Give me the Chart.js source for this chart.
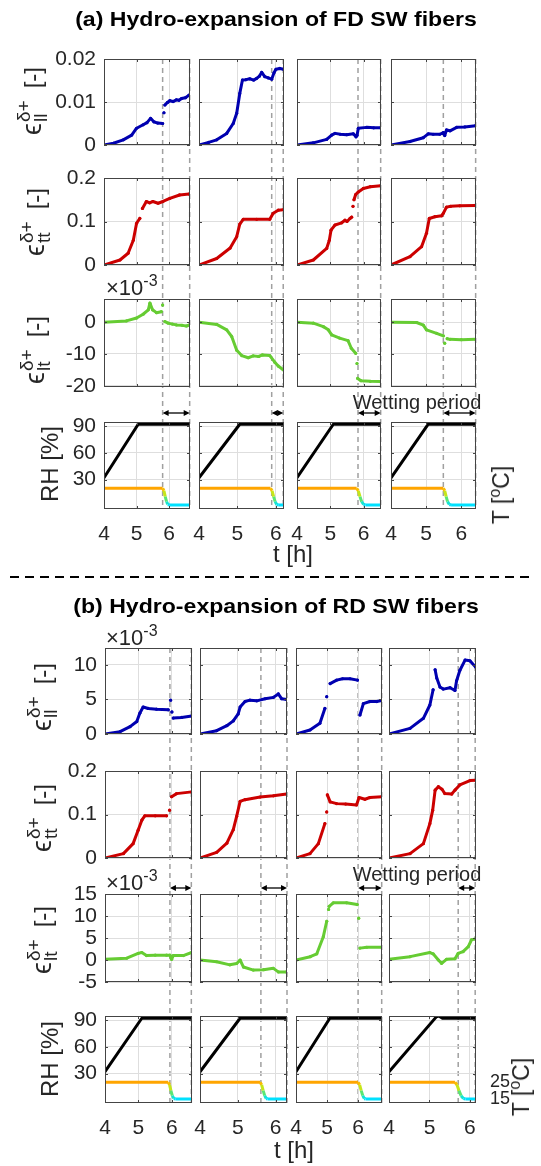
<!DOCTYPE html>
<html>
<head>
<meta charset="utf-8">
<title>Hydro-expansion of SW fibers</title>
<script src="https://cdn.jsdelivr.net/npm/chart.js@4.4.1/dist/chart.umd.min.js"></script>
<style>
  html, body { margin: 0; padding: 0; background: #fff; }
  #fig { position: relative; width: 541px; height: 1166px; overflow: hidden;
         font-family: 'Liberation Sans', 'DejaVu Sans', Arial, sans-serif; color: #262626; }
  #fig canvas { position: absolute; }
  .txt { position: absolute; white-space: nowrap; line-height: 1; }
  .title { font-weight: bold; font-size: 21px; color: #000; transform: translate(-50%, -50%) scaleX(1.1); }
  .mid { transform: translate(-50%, -50%); font-size: 20px; }
  .big { font-size: 24px; }
  .ylab { transform: translate(-50%, -50%) rotate(-90deg); font-size: 24px; }
  .eps { font-size: 27px; }
  .ss { display: inline-block; vertical-align: -6px; font-size: 19px; line-height: 17px; margin: 0 12px 0 1px; }
  .ss span { display: block; }
  .exp { font-size: 22px; transform: translate(0, -50%); }
  .exp sup { font-size: 16px; vertical-align: 9px; }
  .tlab { transform: translate(-50%, -50%) rotate(-90deg); font-size: 23px; }
  .tlab sup { font-size: 16px; vertical-align: 9px; }
</style>
</head>
<body>
<div id="fig"></div>
<script>
// ---------- tick values / labels ----------
const xTicks = [4, 5, 6];
const llTicksA = [0, 0.01, 0.02], llTextA = ['0', '0.01', '0.02'];
const ttTicks = [0, 0.1, 0.2], ttText = ['0', '0.1', '0.2'];
const ltTicksA = [-20, -10, 0], ltTextA = ['-20', '-10', '0'];
const llTicksB = [0, 5, 10], llTextB = ['0', '5', '10'];
const ltTicksB = [-5, 0, 5, 10, 15], ltTextB = ['-5', '0', '5', '10', '15'];
const rhTicks = [30, 60, 90], rhText = ['30', '60', '90'];
const tTicks = [15, 25], tText = ['15', '25'];

// axis ranges
const llRangeA = [0, 0.02], ttRange = [0, 0.2], ltRangeA = [-20.4, 7.3];
const llRangeB = [0, 12.45], ltRangeB = [-5, 15];
const rhRange = [-3, 94.5], tRange = [12.6, 64.7];

// time range end and wetting period [start, end] (h) per column
const xMaxA = [6.64, 6.21, 6.52, 6.42];
const wetA = [[5.80, 6.63], [5.89, 6.19], [5.83, 6.51], [5.49, 6.41]];
const xMaxB = [6.6, 6.3, 6.77, 6.15];
const wetB = [[5.94, 6.58], [5.61, 6.3], [6.0, 6.76], [5.71, 6.13]];

// ---------- (a) FD SW fibers : [t (h), strain] ----------
const llA1 = [[4,0],[4.29,0.0004],[4.59,0.0012],[4.85,0.0023],[5.0,0.0039],[5.2,0.0047],[5.32,0.0052],[5.43,0.0062],[5.53,0.0054],[5.65,0.0051],[5.8,0.005],[5.82,null],[5.84,0.0075],[5.85,null],[5.87,0.0093],[5.95,0.0099],[6.02,0.0103],[6.12,0.0101],[6.22,0.0105],[6.3,0.0104],[6.38,0.0108],[6.5,0.011],[6.61,0.0116]];
const llA2 = [[4,0],[4.25,0.0006],[4.46,0.0012],[4.72,0.0027],[4.89,0.005],[4.98,0.0074],[5.06,0.012],[5.13,0.0151],[5.22,0.0152],[5.32,0.0154],[5.42,0.0151],[5.5,0.0155],[5.57,0.016],[5.63,0.0169],[5.71,0.0159],[5.8,0.0156],[5.89,0.0153],[5.95,0.0168],[6.0,0.0176],[6.1,0.0178],[6.2,0.0176]];
const llA3 = [[4,0],[4.49,0.0005],[4.89,0.0013],[5.04,0.0023],[5.14,0.0027],[5.3,0.0025],[5.49,0.0024],[5.69,0.0026],[5.77,0.0019],[5.8,0.0022],[5.84,0.0039],[6.09,0.0041],[6.3,0.004],[6.51,0.004]];
const llA4 = [[4,0],[4.54,0.0008],[4.92,0.0017],[5.06,0.0026],[5.2,0.0025],[5.39,0.0025],[5.49,0.0029],[5.53,0.0022],[5.58,0.0035],[5.68,0.0033],[5.87,0.0041],[6.1,0.0042],[6.41,0.0045]];

const ttA1 = [[4,0],[4.49,0.0115],[4.74,0.027],[4.9,0.057],[5.0,0.096],[5.1,0.107],[5.14,null],[5.18,0.13],[5.3,0.146],[5.4,0.143],[5.5,0.146],[5.66,0.142],[5.81,0.146],[6.02,0.153],[6.32,0.161],[6.61,0.163]];
const ttA2 = [[4,0],[4.46,0.015],[4.81,0.039],[4.98,0.065],[5.06,0.094],[5.15,0.105],[5.5,0.105],[5.84,0.105],[5.93,0.119],[6.06,0.126],[6.19,0.127]];
const ttA3 = [[4,0],[4.49,0.0115],[4.89,0.038],[4.97,0.057],[5.02,0.08],[5.14,0.092],[5.34,0.097],[5.44,0.103],[5.5,0.1],[5.59,0.107],[5.64,0.11],[5.66,null],[5.68,0.135],[5.69,null],[5.71,0.15],[5.76,0.162],[5.84,0.168],[5.99,0.176],[6.2,0.18],[6.51,0.182]];
const ttA4 = [[4,0],[4.54,0.019],[4.87,0.042],[5.01,0.073],[5.09,0.107],[5.25,0.111],[5.44,0.113],[5.49,0.119],[5.58,0.133],[5.7,0.135],[5.96,0.136],[6.41,0.137]];

// x 10^-3
const ltA1 = [[4,0],[4.69,0.4],[5.0,1.3],[5.2,2.5],[5.36,3.9],[5.41,6.0],[5.49,3.9],[5.61,3.0],[5.76,3.3],[5.78,null],[5.8,5.4],[5.82,null],[5.87,0.2],[5.97,-0.3],[6.1,-0.6],[6.22,-0.85],[6.4,-1.0],[6.53,-1.2],[6.61,-0.9]];
const ltA2 = [[4,0],[4.46,-0.7],[4.72,-2.4],[4.85,-4.5],[4.98,-8.8],[5.11,-10.5],[5.28,-11.2],[5.41,-10.6],[5.55,-10.8],[5.65,-10.3],[5.84,-10.5],[5.97,-12.6],[6.06,-13.8],[6.19,-15]];
const ltA3 = [[4,0],[4.49,-0.3],[4.79,-1.4],[4.94,-2.4],[5.04,-4],[5.28,-5],[5.53,-5.8],[5.63,-8.2],[5.76,-9.8],[5.78,null],[5.8,-13],[5.81,null],[5.82,-17.7],[5.92,-18.4],[6.2,-18.6],[6.51,-18.7]];
const ltA4 = [[4,0],[4.73,-0.1],[4.92,-0.9],[5.01,-2.4],[5.3,-3.5],[5.49,-4.3],[5.51,null],[5.53,-6.6],[5.55,null],[5.6,-5.2],[5.68,-5.4],[6.0,-5.5],[6.41,-5.4]];

// ---------- (b) RD SW fibers ----------
// x 10^-3
const llB1 = [[4,0],[4.45,0.34],[4.75,1.06],[4.95,1.8],[5.04,3.0],[5.14,3.9],[5.29,3.7],[5.54,3.6],[5.89,3.5],[5.92,null],[5.96,4.9],[5.98,null],[6.0,3.2],[6.01,null],[6.04,2.3],[6.29,2.4],[6.59,2.6]];
const llB2 = [[4,0],[4.44,0.48],[4.71,1.2],[4.88,1.9],[5.01,2.9],[5.06,3.9],[5.19,4.7],[5.32,4.9],[5.5,4.8],[5.72,5.1],[5.94,5.3],[6.07,5.8],[6.16,5.1],[6.29,5.0]];
const llB3 = [[4,0],[4.45,0.58],[4.77,1.55],[4.93,3.7],[4.96,null],[4.99,5.4],[5.0,null],[5.1,7.3],[5.31,7.8],[5.5,8.0],[5.74,8.0],[5.98,7.8],[6.0,null],[6.06,2.75],[6.17,4.4],[6.38,4.7],[6.6,4.7],[6.77,4.85]];
const llB4 = [[4,0],[4.52,0.82],[4.85,2.27],[5.01,4.2],[5.09,6.4],[5.12,null],[5.14,9.3],[5.18,8.1],[5.26,6.8],[5.34,6.5],[5.51,6.7],[5.63,6.3],[5.67,7.7],[5.75,9.2],[5.88,10.7],[6.0,10.6],[6.14,9.7]];

const ttB1 = [[4,0],[4.55,0.01],[4.84,0.033],[4.99,0.064],[5.1,0.087],[5.19,0.097],[5.5,0.097],[5.84,0.097],[5.9,null],[5.93,0.11],[5.95,null],[5.99,0.141],[6.14,0.148],[6.59,0.152]];
const ttB2 = [[4,0],[4.44,0.013],[4.71,0.034],[4.88,0.065],[4.97,0.096],[5.06,0.13],[5.19,0.134],[5.59,0.14],[5.94,0.143],[6.29,0.147]];
const ttB3 = [[4,0],[4.45,0.01],[4.72,0.033],[4.93,0.079],[4.96,null],[4.99,0.106],[5.0,null],[5.01,0.145],[5.1,0.129],[5.31,0.125],[5.6,0.124],[5.95,0.122],[6.03,0.139],[6.22,0.135],[6.38,0.139],[6.77,0.141]];
const ttB4 = [[4,0],[4.52,0.01],[4.85,0.033],[5.01,0.079],[5.08,0.11],[5.14,0.156],[5.22,0.164],[5.31,0.158],[5.38,0.148],[5.55,0.147],[5.63,0.156],[5.75,0.168],[6.0,0.178],[6.14,0.179]];

// x 10^-3
const ltB1 = [[4,0.15],[4.65,0.4],[4.99,1.5],[5.1,1.7],[5.24,1.0],[5.5,1.1],[5.84,1.1],[5.94,1.1],[5.99,0.15],[6.04,1.0],[6.34,1.0],[6.59,1.7]];
const ltB2 = [[4,0],[4.44,-0.4],[4.79,-1.1],[4.97,-0.8],[5.06,0],[5.15,-1.6],[5.41,-2.3],[5.68,-2.2],[5.94,-1.9],[6.07,-2.7],[6.29,-2.7]];
const ltB3 = [[4,0],[4.46,0.75],[4.67,1.4],[4.88,5.3],[4.99,8.8],[5.03,null],[5.05,11.5],[5.06,null],[5.07,12.2],[5.2,13],[5.63,13],[5.97,12.6],[6.0,null],[6.02,9.5],[6.04,null],[6.06,2.7],[6.28,2.9],[6.77,2.9]];
const ltB4 = [[4,0.15],[4.52,0.76],[5.01,1.7],[5.09,1.4],[5.22,0],[5.3,-0.76],[5.42,0.15],[5.63,0.3],[5.71,1.5],[5.83,1.9],[5.96,3.05],[6.04,4.6],[6.14,4.8]];

// ---------- RH (%) and T (C) ----------
const rhA1 = [[4,32],[5.05,92],[6.64,92]];
const rhA2 = [[4,32],[5.06,92],[6.21,92]];
const rhA3 = [[4,32],[5.09,92],[6.52,92]];
const rhA4 = [[4,32],[5.06,92],[6.42,92]];
const rhB1 = [[4,32],[5.1,92],[6.6,92]];
const rhB2 = [[4,32],[5.06,92],[6.3,92]];
const rhB3 = [[4,32],[5.09,92],[6.77,92]];
const rhB4 = [[4,32],[5.17,93.5],[5.23,94.5],[5.32,92],[6.15,92]];

const tpA1 = [[4,25],[5.8,25],[5.84,23.5],[5.88,20],[5.92,17],[5.96,15.3],[6.0,15],[6.64,15]];
const tpA2 = [[4,25],[5.86,25],[5.9,23.5],[5.94,20],[5.98,17],[6.02,15.3],[6.06,15],[6.21,15]];
const tpA3 = [[4,25],[5.79,25],[5.84,23.5],[5.89,20],[5.94,17],[6.0,15.3],[6.05,15],[6.52,15]];
const tpA4 = [[4,25],[5.49,25],[5.53,23.5],[5.57,20],[5.61,17],[5.66,15.3],[5.71,15],[6.42,15]];
const tpB1 = [[4,25],[5.89,25],[5.93,23.5],[5.97,20],[6.01,17],[6.06,15.3],[6.1,15],[6.6,15]];
const tpB2 = [[4,25],[5.59,25],[5.63,23.5],[5.67,20],[5.71,17],[5.75,15.3],[5.79,15],[6.3,15]];
const tpB3 = [[4,25],[6.0,25],[6.05,23.5],[6.1,20],[6.15,17],[6.2,15.3],[6.24,15],[6.77,15]];
const tpB4 = [[4,25],[5.63,25],[5.68,23.5],[5.73,20],[5.78,17],[5.84,15.3],[5.89,15],[6.15,15]];

// ---------- look ----------
const TXT = '#262626', GRID = '#dedede', BOX = '#444';
const BLUE = '#0000b0', RED = '#cc0000', GREEN = '#66cc33';
const tStops = [[15, [0, 225, 255]], [17, [40, 230, 170]], [20, [140, 230, 60]], [23, [240, 230, 0]], [25, [255, 165, 0]]];

// panel rectangles (page px)
const colsA = [[104, 190], [199, 284], [297, 381], [391, 476]];
const rowsA = [[59, 145], [178, 265], [299, 387], [422, 509]];
const colsB = [[105, 192], [200, 287], [296, 382], [389, 476]];
const rowsB = [[648, 734], [771, 858], [894, 982], [1016, 1103]];

Chart.defaults.font.family = "'Liberation Sans', 'DejaVu Sans', Arial, sans-serif";
Chart.defaults.color = TXT;

const fig = document.getElementById('fig');

function tColor(v) {
    if (v <= tStops[0][0]) return 'rgb(' + tStops[0][1].join(',') + ')';
    for (let i = 1; i < tStops.length; i++) {
        if (v <= tStops[i][0]) {
            const [a, ca] = tStops[i - 1], [b, cb] = tStops[i];
            const f = (v - a) / (b - a);
            return 'rgb(' + ca.map((c, k) => Math.round(c + f * (cb[k] - c))).join(',') + ')';
        }
    }
    return 'rgb(' + tStops[tStops.length - 1][1].join(',') + ')';
}

// matlab style box with inward ticks
const boxPlugin = {
    id: 'box',
    afterDraw(c) {
        const a = c.chartArea, ctx = c.ctx;
        ctx.save();
        ctx.strokeStyle = BOX;
        ctx.lineWidth = 1;
        ctx.beginPath();
        c.scales.x.ticks.forEach(t => {
            const px = Math.round(c.scales.x.getPixelForValue(t.value)) + 0.5;
            ctx.moveTo(px, a.bottom); ctx.lineTo(px, a.bottom - 3);
            ctx.moveTo(px, a.top); ctx.lineTo(px, a.top + 3);
        });
        c.scales.y.ticks.forEach(t => {
            const py = Math.round(c.scales.y.getPixelForValue(t.value)) + 0.5;
            ctx.moveTo(a.left, py); ctx.lineTo(a.left + 3, py);
            ctx.moveTo(a.right, py); ctx.lineTo(a.right - 3, py);
        });
        ctx.stroke();
        ctx.strokeRect(a.left + 0.5, a.top + 0.5, a.right - a.left - 1, a.bottom - a.top - 1);
        ctx.restore();
    }
};

function line(arr, color) {
    return {
        data: arr.map(p => ({x: p[0], y: p[1]})),
        borderColor: color, backgroundColor: color, pointBackgroundColor: color,
        borderWidth: 3, pointRadius: 1.6, pointBorderWidth: 0, pointHoverRadius: 0,
        borderCapStyle: 'round', borderJoinStyle: 'round', tension: 0
    };
}

// fixed scale size, no label overflow padding
const fixSize = (dim, n) => s => {
    s[dim] = n;
    s.paddingTop = 0; s.paddingBottom = 0; s.paddingLeft = 0; s.paddingRight = 0;
};

function panel(o) {
    const [l, r] = o.col, [t, b] = o.row;
    const padL = o.showY ? l : 14;
    const padR = o.showT ? 40 : 14;
    const padT = 14, padB = o.showX ? 40 : 14;
    const cw = padL + (r - l) + padR, ch = padT + (b - t) + padB;
    const cv = document.createElement('canvas');
    cv.width = cw; cv.height = ch;
    Object.assign(cv.style, {left: (l - padL) + 'px', top: (t - padT) + 'px', width: cw + 'px', height: ch + 'px', zIndex: 2});
    fig.appendChild(cv);

    const tickList = vals => s => { s.ticks = vals.map(v => ({value: v})); };
    const label = (vals, text) => v => { const i = vals.indexOf(v); return i < 0 ? '' : text[i]; };

    const scales = {
        x: {
            type: 'linear', min: 4, max: o.xMax,
            afterBuildTicks: tickList(xTicks),
            afterFit: fixSize('height', padB),
            grid: {color: GRID, drawTicks: false},
            border: {display: false},
            ticks: {display: !!o.showX, padding: 13, font: {size: 21}, maxRotation: 0, autoSkip: false, callback: v => String(v)}
        },
        y: {
            min: o.yRange[0], max: o.yRange[1],
            afterBuildTicks: tickList(o.yTicks),
            afterFit: fixSize('width', padL),
            grid: {color: GRID, drawTicks: false},
            border: {display: false},
            ticks: {display: !!o.showY, padding: 8, font: {size: 21}, autoSkip: false, callback: label(o.yTicks, o.yText)}
        }
    };
    const datasets = o.sets.slice();
    if (o.tData) {
        scales.yT = {
            position: 'right', min: tRange[0], max: tRange[1],
            afterBuildTicks: tickList(tTicks),
            afterFit: fixSize('width', padR),
            grid: {display: false}, border: {display: false},
            ticks: {display: !!o.showT, padding: 6, font: {size: 18}, autoSkip: false, callback: label(tTicks, tText)}
        };
        datasets.push({
            data: o.tData.map(p => ({x: p[0], y: p[1]})), yAxisID: 'yT',
            borderColor: tColor(25), borderWidth: 3, pointRadius: 0, tension: 0,
            segment: {borderColor: c => tColor((c.p0.parsed.y + c.p1.parsed.y) / 2)}
        });
    }

    const chart = new Chart(cv, {
        type: 'line',
        data: {datasets},
        options: {
            responsive: false, animation: false, devicePixelRatio: 1, events: [],
            layout: {autoPadding: false, padding: {top: padT, bottom: 0, left: 0, right: o.tData ? 0 : padR}},
            plugins: {legend: {display: false}, tooltip: {enabled: false}},
            scales
        },
        plugins: [boxPlugin]
    });
    chart.$left = l - padL;
    return chart;
}

function section(S) {
    S.charts = [];
    for (let ri = 0; ri < 4; ri++) {
        const rowCharts = [];
        for (let ci = 0; ci < 4; ci++) {
            const base = {col: S.cols[ci], row: S.rows[ri], xMax: S.xMax[ci], showY: ci === 0};
            if (ri < 3) {
                const R = S.strain[ri];
                rowCharts.push(panel(Object.assign(base, {
                    yRange: R.range, yTicks: R.ticks, yText: R.text, sets: [line(R.data[ci], R.color)]
                })));
            } else {
                const rh = line(S.rh[ci], '#000');
                rh.pointRadius = 0;
                rowCharts.push(panel(Object.assign(base, {
                    yRange: rhRange, yTicks: rhTicks, yText: rhText, showX: true,
                    showT: S.tLabels && ci === 3, tData: S.temp[ci], sets: [rh]
                })));
            }
        }
        S.charts.push(rowCharts);
    }
}

const secA = {
    cols: colsA, rows: rowsA, xMax: xMaxA, wet: wetA, arrowY: 413, tLabels: false,
    strain: [
        {data: [llA1, llA2, llA3, llA4], color: BLUE, range: llRangeA, ticks: llTicksA, text: llTextA},
        {data: [ttA1, ttA2, ttA3, ttA4], color: RED, range: ttRange, ticks: ttTicks, text: ttText},
        {data: [ltA1, ltA2, ltA3, ltA4], color: GREEN, range: ltRangeA, ticks: ltTicksA, text: ltTextA}
    ],
    rh: [rhA1, rhA2, rhA3, rhA4], temp: [tpA1, tpA2, tpA3, tpA4]
};
const secB = {
    cols: colsB, rows: rowsB, xMax: xMaxB, wet: wetB, arrowY: 888, tLabels: true,
    strain: [
        {data: [llB1, llB2, llB3, llB4], color: BLUE, range: llRangeB, ticks: llTicksB, text: llTextB},
        {data: [ttB1, ttB2, ttB3, ttB4], color: RED, range: ttRange, ticks: ttTicks, text: ttText},
        {data: [ltB1, ltB2, ltB3, ltB4], color: GREEN, range: ltRangeB, ticks: ltTicksB, text: ltTextB}
    ],
    rh: [rhB1, rhB2, rhB3, rhB4], temp: [tpB1, tpB2, tpB3, tpB4]
};
section(secA);
section(secB);

// ---------- overlay: wetting lines, arrows, separator ----------
const ov = document.createElement('canvas');
ov.width = 541; ov.height = 1166;
Object.assign(ov.style, {left: '0px', top: '0px', width: '541px', height: '1166px', zIndex: 1});
fig.appendChild(ov);
const g = ov.getContext('2d');

function arrow(x0, x1, y) {
    g.save();
    g.strokeStyle = '#000'; g.fillStyle = '#000'; g.lineWidth = 1.3;
    g.beginPath(); g.moveTo(x0 + 2, y); g.lineTo(x1 - 2, y); g.stroke();
    const h = 6, w = 3;
    g.beginPath(); g.moveTo(x0, y); g.lineTo(x0 + h, y - w); g.lineTo(x0 + h, y + w); g.closePath(); g.fill();
    g.beginPath(); g.moveTo(x1, y); g.lineTo(x1 - h, y - w); g.lineTo(x1 - h, y + w); g.closePath(); g.fill();
    g.restore();
}

function decorate(S) {
    S.charts[0].forEach((c, ci) => {
        const xs = S.wet[ci].map(v => c.$left + c.scales.x.getPixelForValue(v));
        g.save();
        g.strokeStyle = '#a0a0a0'; g.lineWidth = 1.5; g.setLineDash([5, 4]);
        xs.forEach(x => {
            g.beginPath(); g.moveTo(x, S.rows[0][0]); g.lineTo(x, S.rows[3][1]); g.stroke();
        });
        g.restore();
        arrow(xs[0], xs[1], S.arrowY);
    });
}
decorate(secA);
decorate(secB);

g.save();
g.strokeStyle = '#000'; g.lineWidth = 2; g.setLineDash([9, 6]);
g.beginPath(); g.moveTo(10, 577); g.lineTo(533, 577); g.stroke();
g.restore();

// ---------- texts ----------
function addText(html, cls, x, y) {
    const d = document.createElement('div');
    d.className = 'txt ' + cls;
    d.innerHTML = html;
    d.style.left = x + 'px';
    d.style.top = y + 'px';
    d.style.zIndex = 3;
    fig.appendChild(d);
}
const eps = sub => '<span class="eps">\u03f5</span><span class="ss"><span>\u03b4+</span><span>' + sub + '</span></span>[-]';

addText('(a) Hydro-expansion of FD SW fibers', 'title', 276, 18);
addText('(b) Hydro-expansion of RD SW fibers', 'title', 276, 605);

addText(eps('ll'), 'ylab', 32, 101);
addText(eps('tt'), 'ylab', 35, 222);
addText(eps('lt'), 'ylab', 35, 350);
addText('RH [%]', 'ylab', 50, 464);
addText(eps('ll'), 'ylab', 42, 697);
addText(eps('tt'), 'ylab', 42, 818);
addText(eps('lt'), 'ylab', 42, 940);
addText('RH [%]', 'ylab', 50, 1059);

addText('\u00d710<sup>-3</sup>', 'exp', 106, 286);
addText('\u00d710<sup>-3</sup>', 'exp', 106, 636);
addText('\u00d710<sup>-3</sup>', 'exp', 106, 881);

addText('Wetting period', 'mid', 417, 402);
addText('Wetting period', 'mid', 417, 874);
addText('t [h]', 'mid big', 293, 554);
addText('t [h]', 'mid big', 294, 1150);
addText('T [<sup>o</sup>C]', 'tlab', 500, 495);
addText('T [<sup>o</sup>C]', 'tlab', 520, 1087);
</script>
</body>
</html>
